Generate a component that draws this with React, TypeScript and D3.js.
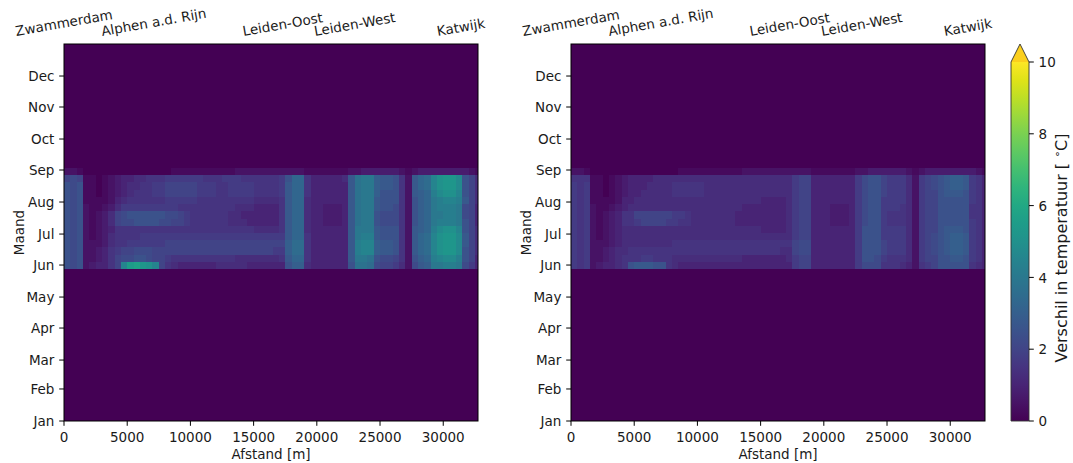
import React, { useMemo } from 'react';
import * as d3 from 'd3';

// ---- data ---------------------------------------------------------------
const stationNames = ['Zwammerdam', 'Alphen a.d. Rijn', 'Leiden-Oost', 'Leiden-West', 'Katwijk'];
const stationDistances = [0, 7100, 17300, 23000, 31400];

const monthLabels = ['Jan', 'Feb', 'Mar', 'Apr', 'May', 'Jun', 'Jul', 'Aug', 'Sep', 'Oct', 'Nov', 'Dec'];
const monthStartDays = [0, 31, 59, 90, 120, 151, 181, 212, 243, 273, 304, 334];

const distanceTicks = [0, 5000, 10000, 15000, 20000, 25000, 30000];
const colorTicks = [0, 2, 4, 6, 8, 10];

const maxDistance = 32750; // m
const cellLength = 500; // m per column
const daysPerRow = 7; // one row per week
const weekNumbers = [21, 22, 23, 24, 25, 26, 27, 28, 29, 30, 31, 32, 33, 34];

// Temperature difference per week (rows) and 500 m segment (columns).
// Each character is a base-36 digit in steps of 0.25 °C; spaces only group columns.
const weeksLeft = [
  'a9a 234 468 imnlki8654 4444455555444444 acc 5444444 affe98875 2 9bcgghhg97 4',
  'a9a 223 468 99aa988766 6666666655555556 bdd 6444444 bggfa9986 2 acdhijjha8 4',
  'a9a 223 467 8899988888 8888888888888877 cee 6444444 bhiicbba6 2 bdeikllja8 5',
  'a9a 222 356 6777777888 8888888888888888 cee 6444444 bhiicbba6 2 bdeiklljb8 5',
  'a9a 212 356 6667777777 7777777777777777 bdd 6444444 bghhbaaa6 2 bdeiklljb8 5',
  'a9a 212 346 6666666666 6666666666655556 bdd 5444444 bgggbaaa6 2 bcdhjkkia8 5',
  'a9a 212 358 99aaaa9988 7666666555444446 bdd 5443334 bfgga9996 2 acdghhhga8 4',
  'a9a 212 358 9aaaaaa998 7666666554444446 bdd 5443334 bfgga9996 2 acdgghhg98 4',
  'a9a 211 235 7777777776 6666666655544446 bdd 5443334 bfggbaa96 2 acdghhhg98 4',
  'a9a 111 124 5666666777 7766666666655556 bdd 5444444 bfggbaaa6 2 acdghiihb8 5',
  'a9a 110 123 4566677888 8877766777766667 bdd 6444444 bfggcaaa6 2 bcdhjkkia8 5',
  'a9a 110 123 4556677888 8877766777766667 bdd 6444444 bfggcbba6 2 bdeikllja8 5',
  '898 110 123 4455666777 7776667776666667 add 6444445 bfggcbba6 2 bdeikllja8 5',
  '221 000 000 0000000011 1111111122222222 222 1111111 223333332 1 2333333332 1',
];

const weeksRight = [
  '767 234 456 abbbaa6544 4444444444444444 788 4444444 799966654 2 678aaaaa65 4',
  '767 223 456 6677666555 5555555544444445 788 4444444 7aa976665 2 788aabba76 4',
  '767 223 455 6666666666 6666666666666655 899 4444444 7aaa87775 2 789abccb76 4',
  '767 222 345 5555555666 6666666666666666 899 4444444 7aaa87775 2 789abccb76 4',
  '767 212 345 5555555555 5555555555555555 788 4444444 7aaa77775 2 789abccb76 4',
  '767 212 345 5555555555 5555555555544445 788 4444444 7aaa77775 2 788abbba76 4',
  '767 212 346 6788887766 5555555444444445 788 4443334 79aa76665 2 788aaaaa76 4',
  '767 212 346 6888888776 5555555444444445 788 4443334 79aa76665 2 788aaaaa66 4',
  '767 211 234 5555555555 5555555544444445 788 4443334 79aa77765 2 788aaaaa66 4',
  '767 111 124 4555555555 5555555555544445 788 4444444 79aa77775 2 788aaaaa76 4',
  '767 110 123 4455555666 6655555555555555 788 4444444 79aa87775 2 788abbba76 4',
  '767 110 123 4445555666 6655555555555555 788 4444444 79aa87775 2 789abccb76 4',
  '666 110 123 4444555555 5555555555555555 788 4444444 79aa87775 2 789abccb76 4',
  '221 000 000 0000000011 1111111122222222 222 1111111 223333332 1 2333333332 1',
];

const decodeRow = (row: string): number[] =>
  row.replace(/ /g, '').split('').map((ch) => parseInt(ch, 36) / 4);

// ---- layout -------------------------------------------------------------
const WIDTH = 1073;
const HEIGHT = 463;
const FONT = '"DejaVu Sans", sans-serif';
const FS = 13.5;
const TEXT = '#1a1a1a';
const plotTop = 44;
const plotBottom = 421;
const plotWidth = 414;
const panelLefts = [64, 571];
const tickLen = 4.8;
const tickPad = 4.8;
const labelAngle = 10;

const cbLeft = 1011;
const cbWidth = 18;
const cbTop = 62;
const cbTip = 44;
const overColor = '#fbcf1d';

const color = d3.scaleSequential(d3.interpolateViridis).domain([0, 10]).clamp(true);
const yScale = d3.scaleLinear().domain([0, 365]).range([plotBottom, plotTop]);
const cbScale = d3.scaleLinear().domain([0, 10]).range([plotBottom, cbTop]);

let measureCtx: CanvasRenderingContext2D | null = null;
function textWidth(text: string, size: number): number {
  if (!measureCtx) {
    const canvas = document.createElement('canvas');
    measureCtx = canvas.getContext('2d');
  }
  if (!measureCtx) return text.length * size * 0.6;
  measureCtx.font = `${size}px "DejaVu Sans"`;
  return measureCtx.measureText(text).width;
}

type PanelProps = { left: number; rows: string[]; clipId: string };

function Panel({ left, rows, clipId }: PanelProps) {
  const x = d3.scaleLinear().domain([0, maxDistance]).range([left, left + plotWidth]);
  const grid = rows.map(decodeRow);
  const sin = Math.sin((labelAngle * Math.PI) / 180);
  const cos = Math.cos((labelAngle * Math.PI) / 180);
  const labelBottom = plotTop - tickPad;

  return (
    <g>
      <defs>
        <clipPath id={clipId}>
          <rect x={x(0)} y={plotTop} width={x(maxDistance) - x(0)} height={plotBottom - plotTop} />
        </clipPath>
      </defs>
      <rect x={x(0)} y={plotTop} width={x(maxDistance) - x(0)} height={plotBottom - plotTop} fill={color(0)} />
      <g clipPath={`url(#${clipId})`} shapeRendering="crispEdges">
        {grid.map((vals, r) => {
          const week = weekNumbers[r];
          const y0 = yScale(week * daysPerRow + daysPerRow);
          const y1 = yScale(week * daysPerRow);
          return vals.map((v, c) => (
            <rect
              key={`${r}-${c}`}
              x={x(c * cellLength)}
              y={y0}
              width={x((c + 1) * cellLength) - x(c * cellLength)}
              height={y1 - y0}
              fill={color(v)}
            />
          ));
        })}
      </g>
      <rect
        x={x(0)}
        y={plotTop}
        width={x(maxDistance) - x(0)}
        height={plotBottom - plotTop}
        fill="none"
        stroke="#000"
        strokeWidth={1}
      />
      {/* distance axis */}
      {distanceTicks.map((t) => (
        <g key={t}>
          <line x1={x(t)} x2={x(t)} y1={plotBottom} y2={plotBottom + tickLen} stroke="#000" strokeWidth={1} />
          <text x={x(t)} y={442} textAnchor="middle" fontSize={FS} fontFamily={FONT} fill={TEXT}>
            {t}
          </text>
        </g>
      ))}
      <text
        x={(x(0) + x(maxDistance)) / 2}
        y={459}
        textAnchor="middle"
        fontSize={FS}
        fontFamily={FONT}
        fill={TEXT}
      >
        Afstand [m]
      </text>
      {/* month axis */}
      {monthStartDays.map((d, i) => (
        <g key={monthLabels[i]}>
          <line x1={left - tickLen} x2={left} y1={yScale(d)} y2={yScale(d)} stroke="#000" strokeWidth={1} />
          <text
            x={left - tickLen - tickPad}
            y={yScale(d)}
            dy="0.38em"
            textAnchor="end"
            fontSize={FS}
            fontFamily={FONT}
            fill={TEXT}
          >
            {monthLabels[i]}
          </text>
        </g>
      ))}
      <text
        transform={`translate(${left - 40},${(plotTop + plotBottom) / 2}) rotate(-90)`}
        textAnchor="middle"
        fontSize={FS}
        fontFamily={FONT}
        fill={TEXT}
      >
        Maand
      </text>
      {/* station names along the top */}
      {stationNames.map((name, i) => {
        const w = textWidth(name, FS);
        const boxH = w * sin + 1.164 * FS * cos;
        const cx = x(stationDistances[i]);
        const cy = labelBottom - boxH / 2;
        return (
          <text
            key={name}
            transform={`translate(${cx},${cy}) rotate(${-labelAngle})`}
            y={0.346 * FS}
            textAnchor="middle"
            fontSize={FS}
            fontFamily={FONT}
            fill={TEXT}
          >
            {name}
          </text>
        );
      })}
    </g>
  );
}

function Colorbar() {
  const stops = d3.range(0, 1.0001, 0.05);
  const mid = cbLeft + cbWidth / 2;
  const right = cbLeft + cbWidth;
  return (
    <g>
      <defs>
        <linearGradient id="cb-viridis" x1="0" y1="1" x2="0" y2="0">
          {stops.map((s) => (
            <stop key={s} offset={s} stopColor={d3.interpolateViridis(s)} />
          ))}
        </linearGradient>
      </defs>
      <rect x={cbLeft} y={cbScale(10)} width={cbWidth} height={cbScale(0) - cbScale(10)} fill="url(#cb-viridis)" />
      <path d={`M${cbLeft},${cbScale(10)} L${mid},${cbTip} L${right},${cbScale(10)} Z`} fill={overColor} />
      <path
        d={`M${cbLeft},${cbScale(0)} L${cbLeft},${cbScale(10)} L${mid},${cbTip} L${right},${cbScale(10)} L${right},${cbScale(0)} Z`}
        fill="none"
        stroke="#333"
        strokeWidth={0.9}
      />
      {colorTicks.map((t) => (
        <g key={t}>
          <line x1={right} x2={right + tickLen} y1={cbScale(t)} y2={cbScale(t)} stroke="#000" strokeWidth={1} />
          <text
            x={right + tickLen + tickPad}
            y={cbScale(t)}
            dy="0.38em"
            fontSize={FS}
            fontFamily={FONT}
            fill={TEXT}
          >
            {t}
          </text>
        </g>
      ))}
      <text
        transform={`translate(1067,248) rotate(-90)`}
        textAnchor="middle"
        fontSize={16}
        fontFamily={FONT}
        fill={TEXT}
      >
        Verschil in temperatuur [ <tspan dy={-6} fontSize={11}>∘</tspan>
        <tspan dy={6}>C]</tspan>
      </text>
    </g>
  );
}

export default function App() {
  const panels = useMemo(
    () => [
      { left: panelLefts[0], rows: weeksLeft, clipId: 'clip-left' },
      { left: panelLefts[1], rows: weeksRight, clipId: 'clip-right' },
    ],
    []
  );
  return (
    <svg
      width={WIDTH}
      height={HEIGHT}
      viewBox={`0 0 ${WIDTH} ${HEIGHT}`}
      style={{ position: 'absolute', left: 0, top: 0, background: '#fff' }}
    >
      <rect width={WIDTH} height={HEIGHT} fill="#fff" />
      {panels.map((p) => (
        <Panel key={p.clipId} left={p.left} rows={p.rows} clipId={p.clipId} />
      ))}
      <Colorbar />
    </svg>
  );
}
